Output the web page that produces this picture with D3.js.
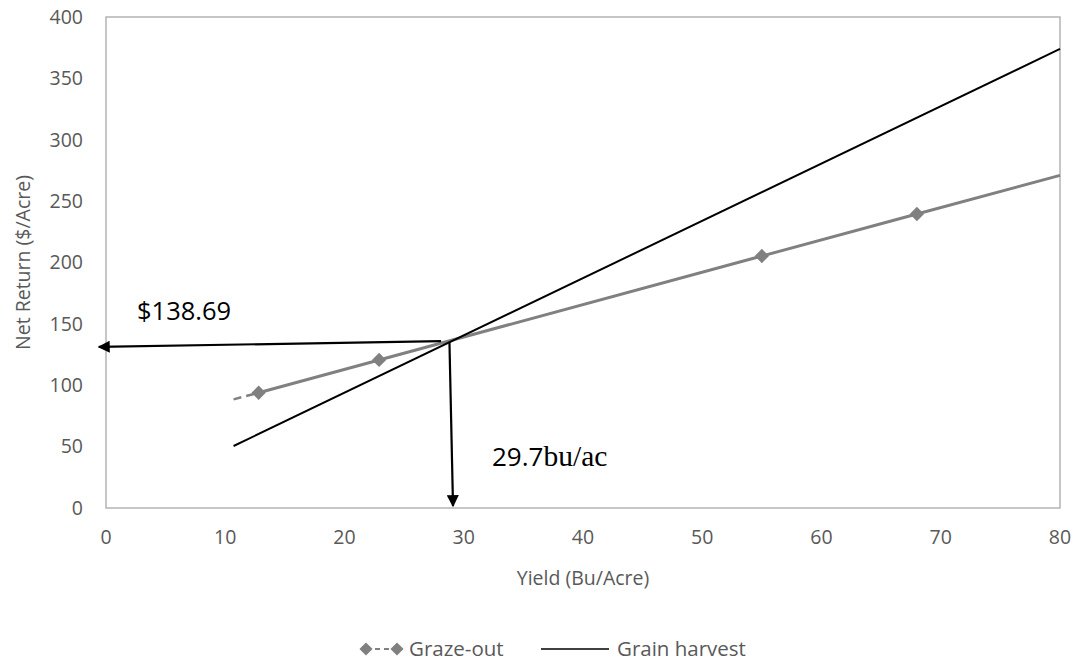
<!DOCTYPE html>
<html>
<head>
<meta charset="utf-8">
<script src="https://cdn.jsdelivr.net/npm/d3@7"></script>
<style>
  body { margin: 0; background: #fff; }
  text { font-family: "Open Sans", sans-serif; }
</style>
</head>
<body>
<script>
// graze-out series (first segment is the dashed extension, no marker)
var grazeYield  = [10.7, 12.8, 22.9, 55.0, 68.0, 80];
var grazeReturn = [88.5, 93.9, 120.6, 205.3, 239.5, 271];
var grazeMarker = [false, true, true, true, true, false];

// grain harvest line
var grainYield  = [10.7, 80];
var grainReturn = [50.5, 374];

var xTicks = [0, 10, 20, 30, 40, 50, 60, 70, 80];
var yTicks = [0, 50, 100, 150, 200, 250, 300, 350, 400];

// break-even arrows [x1, y1, x2, y2] in data units
var hArrow = [28.1, 136, -0.6, 131.2];
var vArrow = [28.8, 135.2, 29.1, 1.6];

var W = 1081, H = 664;
var mLeft = 106, mRight = 1060, mTop = 17, mBottom = 508;

var svg = d3.select("body").append("svg")
    .attr("width", W)
    .attr("height", H);

var x = d3.scaleLinear().domain([0, 80]).range([mLeft, mRight]);
var y = d3.scaleLinear().domain([0, 400]).range([mBottom, mTop]);

svg.append("defs").append("marker")
    .attr("id", "arrow")
    .attr("viewBox", "0 0 10 10")
    .attr("refX", 9).attr("refY", 5)
    .attr("markerWidth", 7).attr("markerHeight", 5.5)
    .attr("markerUnits", "strokeWidth")
    .attr("orient", "auto")
    .append("path")
    .attr("d", "M0,0 L10,5 L0,10 Z")
    .attr("fill", "#000");

// plot box
svg.append("rect")
    .attr("x", mLeft).attr("y", mTop)
    .attr("width", mRight - mLeft).attr("height", mBottom - mTop)
    .attr("fill", "none")
    .attr("stroke", "#b4b4b4")
    .attr("stroke-width", 1.5);

// tick labels
svg.selectAll(".ylab").data(yTicks).enter().append("text")
    .attr("x", 83)
    .attr("y", function(d) { return y(d); })
    .attr("dy", "0.35em")
    .attr("text-anchor", "end")
    .attr("font-size", 19.5)
    .attr("fill", "#595959")
    .text(function(d) { return d; });

svg.selectAll(".xlab").data(xTicks).enter().append("text")
    .attr("x", function(d) { return x(d); })
    .attr("y", 537)
    .attr("dy", "0.35em")
    .attr("text-anchor", "middle")
    .attr("font-size", 19.5)
    .attr("fill", "#595959")
    .text(function(d) { return d; });

// axis titles
svg.append("text")
    .attr("transform", "translate(23," + ((mTop + mBottom) / 2) + ") rotate(-90)")
    .attr("text-anchor", "middle")
    .attr("dy", "0.35em")
    .attr("font-size", 19.5)
    .attr("fill", "#595959")
    .text("Net Return ($/Acre)");

svg.append("text")
    .attr("x", (mLeft + mRight) / 2)
    .attr("y", 578)
    .attr("dy", "0.35em")
    .attr("text-anchor", "middle")
    .attr("font-size", 19.5)
    .attr("fill", "#595959")
    .text("Yield (Bu/Acre)");

// graze-out
var grazePts = grazeYield.map(function(d, i) { return [d, grazeReturn[i], grazeMarker[i]]; });
var line = d3.line()
    .x(function(d) { return x(d[0]); })
    .y(function(d) { return y(d[1]); });

svg.append("path")
    .datum(grazePts.slice(0, 2))
    .attr("d", line)
    .attr("fill", "none")
    .attr("stroke", "#808080")
    .attr("stroke-width", 2.5)
    .attr("stroke-dasharray", "8,5");

svg.append("path")
    .datum(grazePts.slice(1))
    .attr("d", line)
    .attr("fill", "none")
    .attr("stroke", "#808080")
    .attr("stroke-width", 3);

var diamond = d3.symbol().type(d3.symbolDiamond2).size(130);
svg.selectAll(".mk").data(grazePts.filter(function(d) { return d[2]; })).enter().append("path")
    .attr("d", diamond)
    .attr("transform", function(d) { return "translate(" + x(d[0]) + "," + y(d[1]) + ")"; })
    .attr("fill", "#808080");

// grain harvest
svg.append("path")
    .datum(grainYield.map(function(d, i) { return [d, grainReturn[i]]; }))
    .attr("d", line)
    .attr("fill", "none")
    .attr("stroke", "#000")
    .attr("stroke-width", 2);

// arrows
[hArrow, vArrow].forEach(function(a) {
    svg.append("line")
        .attr("x1", x(a[0])).attr("y1", y(a[1]))
        .attr("x2", x(a[2])).attr("y2", y(a[3]))
        .attr("stroke", "#000")
        .attr("stroke-width", 2.2)
        .attr("marker-end", "url(#arrow)");
});

// annotations
svg.append("text")
    .attr("x", 137).attr("y", 320)
    .attr("font-size", 25.5)
    .attr("fill", "#000")
    .text("$138.69");

var ann = svg.append("text")
    .attr("x", 492).attr("y", 466)
    .attr("font-size", 26)
    .attr("fill", "#000");
ann.append("tspan").text("29.7");
ann.append("tspan").style("font-family", "'Liberation Serif', serif").attr("font-size", 29.5).text("bu/ac");

// legend
var ly = 649;
svg.append("line")
    .attr("x1", 366).attr("x2", 397)
    .attr("y1", ly).attr("y2", ly)
    .attr("stroke", "#808080")
    .attr("stroke-width", 2)
    .attr("stroke-dasharray", "5,4");
[366, 397].forEach(function(px) {
    svg.append("path")
        .attr("d", d3.symbol().type(d3.symbolDiamond2).size(110))
        .attr("transform", "translate(" + px + "," + ly + ")")
        .attr("fill", "#808080");
});
svg.append("text")
    .attr("x", 409).attr("y", ly)
    .attr("dy", "0.35em")
    .attr("font-size", 20.5)
    .attr("fill", "#595959")
    .text("Graze-out");

svg.append("line")
    .attr("x1", 541).attr("x2", 609)
    .attr("y1", ly).attr("y2", ly)
    .attr("stroke", "#000")
    .attr("stroke-width", 1.5);
svg.append("text")
    .attr("x", 617).attr("y", ly)
    .attr("dy", "0.35em")
    .attr("font-size", 20.5)
    .attr("fill", "#595959")
    .text("Grain harvest");
</script>
</body>
</html>
